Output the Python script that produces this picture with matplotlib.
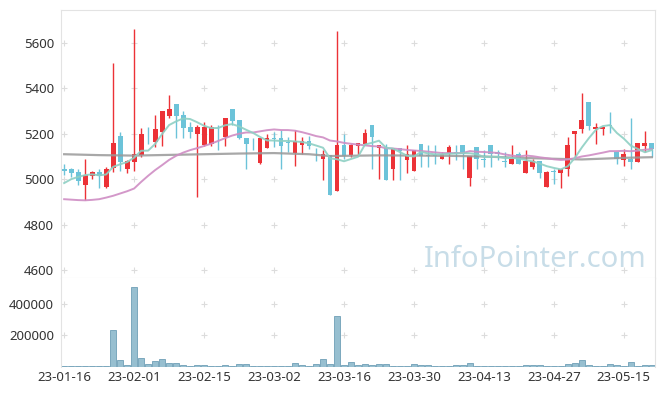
import matplotlib.pyplot as plt
import numpy as np
import pandas as pd

plt.rcParams['font.family'] = ['Noto Sans', 'DejaVu Sans']

# trading days (KRX holidays removed)
holidays = ["2023-01-23", "2023-01-24", "2023-03-01", "2023-05-01", "2023-05-05"]
dates = [d.strftime("%y-%m-%d") for d in pd.bdate_range("2023-01-16", "2023-05-19")
         if d.strftime("%Y-%m-%d") not in holidays]

opens = [5047, 5047, 5031, 4974, 5015, 5031, 4966, 5050, 5190, 5044,
         5076, 5106, 5166, 5165, 5209, 5280, 5331, 5283, 5230, 5197,
         5150, 5157, 5231, 5188, 5309, 5260, 5182, 5160, 5071, 5138,
         5180, 5180, 5161, 5116, 5150, 5168, 5103, 5090, 5106, 4947,
         5150, 5106, 5146, 5157, 5238, 5138, 5138, 5044, 5138, 5084,
         5037, 5157, 5107, 5107, 5087, 5109, 5118, 5150, 5007, 5140,
         5088, 5150, 5121, 5079, 5069, 5110, 5028, 5054, 5079, 4966,
         5034, 5028, 5047, 5197, 5219, 5338, 5219, 5219, 5237, 5118,
         5084, 5091, 5076, 5146, 5160]
highs = [5069, 5050, 5047, 5087, 5037, 5047, 5054, 5510, 5209, 5084,
         5662, 5224, 5231, 5283, 5300, 5371, 5331, 5300, 5250, 5238,
         5250, 5238, 5238, 5269, 5309, 5260, 5182, 5180, 5181, 5197,
         5209, 5216, 5187, 5215, 5185, 5190, 5138, 5128, 5106, 5653,
         5197, 5157, 5159, 5219, 5238, 5150, 5157, 5138, 5138, 5150,
         5128, 5157, 5150, 5150, 5120, 5150, 5150, 5150, 5101, 5140,
         5128, 5150, 5128, 5121, 5150, 5121, 5128, 5087, 5079, 5037,
         5047, 5047, 5187, 5212, 5378, 5338, 5249, 5231, 5296, 5118,
         5135, 5268, 5160, 5212, 5160]
lows = [5018, 5010, 4976, 4907, 4999, 4962, 4962, 5032, 5035, 5029,
        5035, 5099, 5157, 5140, 5147, 5268, 5180, 5180, 5180, 4920,
        5147, 5147, 5128, 5147, 5238, 5177, 5047, 5128, 5069, 5138,
        5143, 5047, 5118, 5056, 5112, 5132, 5079, 4996, 4932, 4947,
        5088, 5099, 5103, 5157, 5047, 5003, 4996, 4996, 4996, 5028,
        5037, 5054, 5054, 5069, 5087, 5069, 5084, 5047, 4969, 5047,
        5054, 5054, 5084, 5054, 5069, 5069, 5028, 5044, 5007, 4966,
        4981, 4963, 5015, 5099, 5202, 5216, 5157, 5194, 5203, 5069,
        5057, 5047, 5076, 5121, 5099]
closes = [5037, 5028, 4993, 5018, 5031, 5015, 5047, 5160, 5076, 5079,
          5112, 5199, 5163, 5221, 5300, 5309, 5280, 5227, 5209, 5230,
          5230, 5230, 5228, 5269, 5256, 5180, 5156, 5158, 5180, 5180,
          5177, 5147, 5159, 5168, 5168, 5147, 5100, 5110, 4932, 5150,
          5103, 5150, 5159, 5202, 5187, 5150, 4996, 5138, 5125, 5110,
          5128, 5101, 5104, 5104, 5110, 5140, 5109, 5110, 5101, 5087,
          5085, 5110, 5110, 5076, 5088, 5069, 5079, 5079, 5028, 5031,
          5031, 5047, 5150, 5212, 5260, 5235, 5231, 5231, 5234, 5087,
          5110, 5076, 5160, 5160, 5135]
volumes = [5000, 5000, 1000, 4000, 4000, 4000, 4000, 232000, 40000, 11000,
           513000, 53000, 17000, 34000, 47000, 23000, 23000, 11000, 4000, 11000,
           11000, 4000, 4000, 9000, 4000, 17000, 17000, 4000, 4000, 4000,
           4000, 4000, 4000, 21000, 10000, 4000, 17000, 47000, 17000, 328000,
           10000, 28000, 10000, 17000, 10000, 17000, 17000, 4000, 4000, 4000,
           17000, 10000, 10000, 4000, 1000, 4000, 8000, 8000, 23000, 4000,
           1000, 4000, 4000, 4000, 4000, 4000, 8000, 8000, 8000, 4000,
           4000, 4000, 17000, 23000, 40000, 10000, 4000, 4000, 17000, 10000,
           4000, 28000, 1000, 8000, 10000]

# closes before the visible window (for the 5-day average)
prev_closes = [4943, 4943, 4978, 5014]
# 20-day average for the first 19 days (earlier data not shown)
ma20_head = [4912, 4910, 4908, 4907, 4909, 4912, 4919, 4927, 4937, 4947,
             4959, 4988, 5015, 5040, 5062, 5085, 5103, 5117, 5128]
# long average
ma_long_idx = [0, 5, 10, 15, 20, 25, 30, 35, 38, 45, 55, 60, 65, 70, 74, 80, 84]
ma_long_val = [5110, 5106, 5104, 5107, 5110, 5113, 5115, 5110, 5102, 5105,
               5103, 5100, 5094, 5090, 5087, 5094, 5097]

o = np.array(opens); h = np.array(highs); l = np.array(lows); c = np.array(closes)
x = np.arange(len(c))
up = c >= o
red, blue = '#ec3237', '#6cc3d9'
cols = np.where(up, red, blue)

ma5 = pd.Series(prev_closes + closes).rolling(5).mean().values[len(prev_closes):]
ma20 = pd.Series(closes).rolling(20).mean().values
ma20[:19] = ma20_head

W, H = 665, 396
fig = plt.figure(figsize=(W / 100, H / 100), dpi=100)
ax = fig.add_axes([61 / W, 1 - 278 / H, 594 / W, 268 / H])
axv = fig.add_axes([61 / W, 1 - 366.5 / H, 594 / W, 88.5 / H], sharex=ax)

# watermark
ax.text(0.9865, 0.042, 'InfoPointer.com', transform=ax.transAxes, ha='right',
        va='baseline', fontsize=21, color='#c8dde8', zorder=0)

# candles
ax.vlines(x, l, h, colors=cols, lw=1, zorder=2)
ax.bar(x, np.maximum(np.abs(c - o), 3), bottom=np.minimum(o, c), width=0.7,
       color=cols, zorder=3)

ax.plot(ma_long_idx, ma_long_val, color='#999999', lw=1.6, alpha=0.85, zorder=4)
ax.plot(x, ma20, color='#cf8dc4', lw=1.4, alpha=0.9, zorder=4)
ax.plot(x, ma5, color='#8ed0c4', lw=1.4, alpha=0.9, zorder=4)

ax.set_ylim(4565, 5745)
ax.set_xlim(-0.45, 84.45)
yt = [4600, 4800, 5000, 5200, 5400, 5600]
ax.set_yticks(yt)

# volume
axv.bar(x, volumes, width=0.85, color='#97bfd0', edgecolor='#6f9fb6', lw=0.6, zorder=2)
axv.set_ylim(0, 570000)
axv.set_yticks([200000, 400000])

xt = list(range(0, len(dates), 10))
axv.set_xticks(xt)
axv.set_xticklabels([dates[i] for i in xt])

# plus-shaped grid marks
for a, ys in ((ax, yt), (axv, [200000, 400000])):
    gx, gy = np.meshgrid(xt, ys)
    a.scatter(gx.ravel(), gy.ravel(), marker='+', s=14, color='#dcdcdc', lw=0.8, zorder=1)

for a in (ax, axv):
    for s in a.spines.values():
        s.set_color('#e3e3e3')
    a.tick_params(length=0, labelsize=9.5, labelcolor='#333333', pad=5)
ax.tick_params(labelbottom=False)
axv.spines['top'].set_visible(False)
axv.spines['bottom'].set_visible(False)
axv.tick_params(axis='x', pad=3)

fig.savefig('out.png', dpi=100)
